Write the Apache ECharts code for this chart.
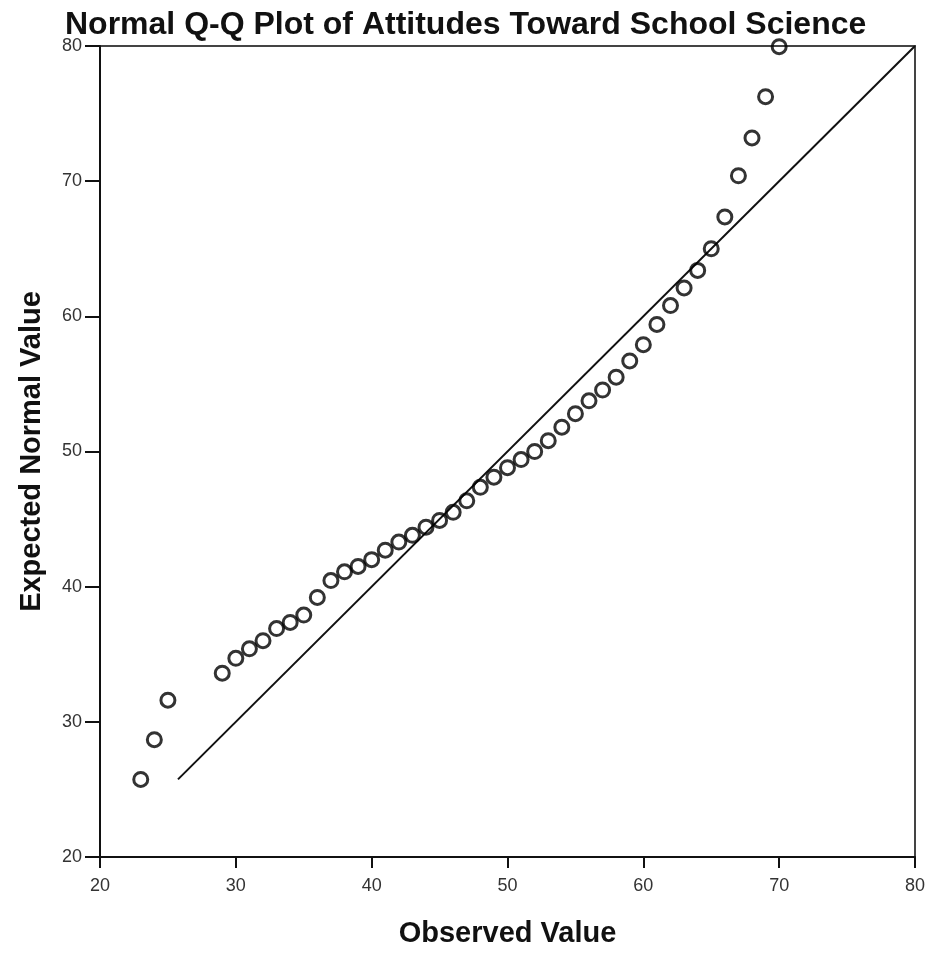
<!DOCTYPE html>
<html>
<head>
<meta charset="utf-8">
<script src="https://cdn.jsdelivr.net/npm/echarts@6/dist/echarts.min.js"></script>
<style>
  html, body { margin: 0; padding: 0; background: #fff; }
  #chart { width: 929px; height: 953px; }
</style>
</head>
<body>
<div id="chart"></div>
<script>
// Observed scores (x) and their expected normal quantiles (y)
const observed = [23, 24, 25, 29, 30, 31, 32, 33, 34, 35, 36, 37, 38, 39, 40, 41, 42, 43, 44, 45,
  46, 47, 48, 49, 50, 51, 52, 53, 54, 55, 56, 57, 58, 59, 60, 61, 62, 63, 64, 65, 66, 67, 68, 69, 70];
const expected = [25.74, 28.68, 31.6, 33.6, 34.7, 35.4, 36.0, 36.9, 37.35, 37.9, 39.2, 40.45, 41.1, 41.5,
  42.0, 42.7, 43.3, 43.8, 44.4, 44.9, 45.5, 46.35, 47.35, 48.1, 48.8, 49.4, 50.0, 50.8, 51.8, 52.8,
  53.75, 54.55, 55.5, 56.7, 57.9, 59.4, 60.8, 62.1, 63.4, 65.0, 67.35, 70.4, 73.2, 76.25, 79.95];

// Axis ranges and tick step (same on both axes)
const axisMin = 20;
const axisMax = 80;
const axisStep = 10;

const points = observed.map((x, i) => [x, expected[i]]);
// Reference line y = x from the lowest expected value to the top of the scale
const refLine = [[expected[0], expected[0]], [axisMax, axisMax]];

const chart = echarts.init(document.getElementById('chart'), null, { renderer: 'canvas' });

const tickFont = { fontFamily: 'Liberation Sans, Arial, sans-serif', fontSize: 18, color: '#333' };
const nameFont = { fontFamily: 'Liberation Sans, Arial, sans-serif', fontSize: 29, fontWeight: 'bold', color: '#111' };

chart.setOption({
  backgroundColor: '#fff',
  animation: false,
  title: {
    text: 'Normal Q-Q Plot of Attitudes Toward School Science',
    left: 60,
    top: 4,
    textStyle: { fontFamily: 'Liberation Sans, Arial, sans-serif', fontSize: 32, fontWeight: 'bold', color: '#111' }
  },
  grid: {
    left: 100, right: 14, top: 46, bottom: 91,
    show: true, borderColor: '#444', borderWidth: 2, backgroundColor: 'transparent'
  },
  xAxis: {
    type: 'value', min: axisMin, max: axisMax, interval: axisStep,
    name: 'Observed Value', nameLocation: 'middle', nameGap: 62, nameTextStyle: nameFont,
    axisLine: { show: true, lineStyle: { color: '#111', width: 2 } },
    axisTick: { show: true, length: 11, lineStyle: { color: '#111', width: 2 } },
    axisLabel: Object.assign({ margin: 20 }, tickFont),
    splitLine: { show: false }
  },
  yAxis: {
    type: 'value', min: axisMin, max: axisMax, interval: axisStep,
    name: 'Expected Normal Value', nameLocation: 'middle', nameGap: 54, nameTextStyle: nameFont,
    axisLine: { show: true, lineStyle: { color: '#111', width: 2 } },
    axisTick: { show: true, length: 15, lineStyle: { color: '#111', width: 2 } },
    axisLabel: Object.assign({ margin: 18 }, tickFont),
    splitLine: { show: false }
  },
  series: [
    {
      type: 'line',
      data: refLine,
      symbol: 'none',
      lineStyle: { color: '#111', width: 2 },
      z: 2
    },
    {
      type: 'scatter',
      data: points,
      symbol: 'circle',
      symbolSize: 14,
      clip: false,
      itemStyle: { color: 'rgba(255,255,255,0)', borderColor: '#000', borderWidth: 3 },
      z: 3
    }
  ]
});
</script>
</body>
</html>
